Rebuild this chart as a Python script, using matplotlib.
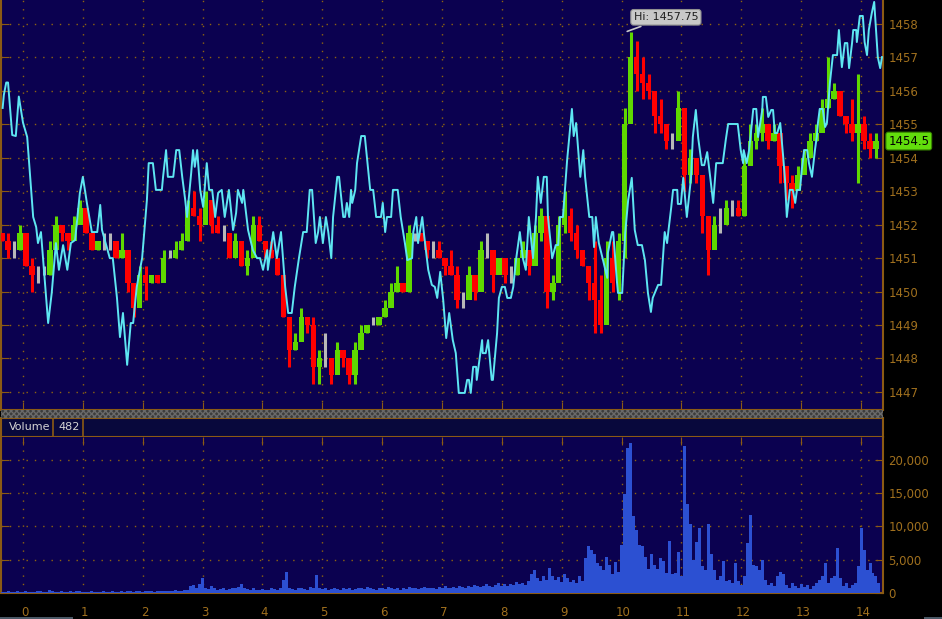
"""
Intraday price bars with comparison line and volume panel
"""
import numpy as np
import matplotlib.pyplot as plt
import matplotlib.transforms as mtrans
from matplotlib.patches import Rectangle

plt.rcParams['font.family'] = ['DejaVu Sans']

# ---- data ----
# price bars, one every 0.1 on the time axis starting at -0.35
first_open = 1451.75
bar_close = [1451.5, 1451.25, 1451.25, 1451.75, 1450.75, 1450.5, 1450.5, 1450.5, 1451.25, 1452.0,
             1451.75, 1451.5, 1452.0, 1452.5, 1451.75, 1451.25, 1451.5, 1451.5, 1451.5, 1451.0,
             1451.25, 1450.25, 1449.5, 1450.5, 1450.25, 1450.5, 1450.25, 1451.0, 1451.0, 1451.25,
             1451.5, 1452.5, 1452.25, 1452.0, 1452.75, 1452.0, 1451.75, 1451.75, 1451.0, 1451.5,
             1450.75, 1451.0, 1452.0, 1451.5, 1451.25, 1451.0, 1450.5, 1449.25, 1448.25, 1448.5,
             1449.25, 1449.0, 1447.75, 1448.0, 1448.0, 1447.5, 1448.25, 1448.0, 1447.5, 1448.25,
             1448.75, 1449.0, 1449.0, 1449.25, 1449.5, 1450.0, 1450.25, 1450.0, 1451.75, 1451.75,
             1451.5, 1451.25, 1451.25, 1451.0, 1450.75, 1450.5, 1449.75, 1449.75, 1450.5, 1450.0,
             1451.25, 1451.25, 1450.5, 1451.0, 1450.5, 1450.5, 1451.0, 1451.25, 1450.75, 1451.75,
             1452.25, 1450.0, 1450.25, 1452.0, 1452.25, 1451.75, 1451.25, 1450.75, 1450.25, 1449.75,
             1449.0, 1451.0, 1450.25, 1451.5, 1455.0, 1457.0, 1456.5, 1456.25, 1456.0, 1455.25,
             1455.0, 1454.5, 1454.5, 1455.5, 1453.5, 1454.0, 1453.5, 1452.25, 1451.25, 1452.0,
             1452.0, 1452.5, 1452.5, 1452.25, 1453.75, 1454.5, 1454.75, 1455.0, 1454.5, 1454.75,
             1453.75, 1453.25, 1453.0, 1453.5, 1454.0, 1454.5, 1454.75, 1455.5, 1455.75, 1456.0,
             1455.25, 1455.0, 1454.75, 1455.0, 1454.5, 1454.25, 1454.5]
bar_high = [1451.75, 1451.75, 1451.5, 1452.0, 1451.25, 1451.0, 1450.75, 1450.75, 1451.5, 1452.25,
            1452.0, 1451.75, 1452.25, 1452.75, 1452.25, 1451.5, 1451.5, 1451.75, 1451.75, 1451.25,
            1451.75, 1451.0, 1449.75, 1450.75, 1450.75, 1450.5, 1450.5, 1451.25, 1451.25, 1451.5,
            1451.75, 1452.75, 1453.0, 1452.5, 1453.0, 1452.5, 1452.25, 1452.0, 1451.5, 1451.75,
            1451.5, 1451.25, 1452.25, 1452.25, 1451.5, 1451.5, 1451.0, 1450.5, 1449.25, 1448.75,
            1449.5, 1449.25, 1449.25, 1448.25, 1448.75, 1448.0, 1448.5, 1448.25, 1448.0, 1448.5,
            1449.0, 1449.0, 1449.25, 1449.25, 1449.75, 1450.25, 1450.75, 1450.25, 1452.0, 1451.75,
            1451.75, 1451.5, 1451.5, 1451.5, 1451.0, 1451.25, 1450.75, 1450.0, 1450.75, 1450.5,
            1451.5, 1451.75, 1451.0, 1451.0, 1450.75, 1450.75, 1451.0, 1451.5, 1451.25, 1452.0,
            1452.5, 1451.5, 1450.5, 1452.25, 1453.0, 1452.5, 1452.0, 1451.25, 1450.75, 1451.5,
            1450.5, 1451.5, 1451.5, 1451.75, 1455.5, 1457.75, 1457.5, 1457.0, 1456.5, 1455.75,
            1455.75, 1455.0, 1454.75, 1456.0, 1455.5, 1454.25, 1454.0, 1453.25, 1452.25, 1452.25,
            1452.5, 1452.75, 1452.75, 1452.75, 1454.0, 1455.0, 1455.0, 1455.5, 1455.0, 1455.0,
            1454.75, 1453.75, 1453.5, 1453.75, 1454.25, 1454.75, 1455.0, 1455.75, 1457.0, 1456.25,
            1455.75, 1455.25, 1455.75, 1456.5, 1455.25, 1454.75, 1454.75]
bar_low = [1451.5, 1451.0, 1451.0, 1451.25, 1450.75, 1450.0, 1450.25, 1450.5, 1450.5, 1451.25,
           1451.5, 1451.25, 1451.75, 1452.25, 1451.75, 1451.25, 1451.25, 1451.25, 1451.25, 1451.0,
           1451.0, 1450.0, 1449.25, 1449.75, 1449.75, 1450.25, 1450.25, 1450.5, 1451.0, 1451.0,
           1451.25, 1451.5, 1452.25, 1451.5, 1452.5, 1451.75, 1451.75, 1451.5, 1451.0, 1451.25,
           1450.75, 1450.5, 1451.75, 1451.5, 1451.0, 1451.0, 1450.5, 1449.25, 1447.75, 1448.25,
           1449.0, 1448.75, 1447.25, 1447.25, 1447.75, 1447.25, 1448.0, 1447.75, 1447.25, 1447.25,
           1448.5, 1448.75, 1449.0, 1449.0, 1449.25, 1449.75, 1450.0, 1450.0, 1450.0, 1451.5,
           1451.5, 1451.0, 1451.0, 1451.0, 1450.5, 1450.5, 1449.5, 1449.5, 1450.0, 1449.75,
           1450.75, 1451.0, 1450.0, 1450.75, 1450.25, 1450.25, 1450.5, 1451.0, 1450.5, 1451.0,
           1451.5, 1449.5, 1449.75, 1450.5, 1451.75, 1451.5, 1451.0, 1450.75, 1449.75, 1448.75,
           1448.75, 1450.0, 1450.0, 1449.75, 1451.0, 1455.5, 1456.0, 1455.75, 1455.75, 1454.75,
           1454.75, 1454.25, 1454.25, 1455.0, 1453.0, 1453.25, 1453.25, 1451.75, 1450.5, 1451.75,
           1451.75, 1452.25, 1452.25, 1452.25, 1452.25, 1454.0, 1454.25, 1454.5, 1454.25, 1454.5,
           1453.25, 1452.75, 1452.5, 1453.25, 1453.75, 1454.25, 1454.5, 1455.25, 1455.5, 1455.75,
           1455.25, 1454.75, 1454.5, 1453.25, 1454.25, 1454.0, 1454.0]

# comparison line (cyan), time / price pairs
line_t = [-0.34, -0.32, -0.28, -0.25, -0.18, -0.12, -0.07, 0.00, 0.07, 0.17, 0.22, 0.25, 0.30, 0.42,
          0.48, 0.55, 0.60, 0.67, 0.74, 0.80, 0.87, 0.95, 1.00, 1.07, 1.15, 1.24, 1.29, 1.32, 1.45,
          1.50, 1.57, 1.62, 1.67, 1.74, 1.80, 1.84, 1.90, 1.99, 2.07, 2.10, 2.17, 2.22, 2.32, 2.34,
          2.39, 2.42, 2.51, 2.56, 2.61, 2.66, 2.71, 2.74, 2.81, 2.84, 2.87, 2.91, 2.96, 3.01, 3.07,
          3.11, 3.16, 3.21, 3.26, 3.32, 3.37, 3.44, 3.51, 3.56, 3.59, 3.66, 3.68, 3.76, 3.84, 3.91,
          3.96, 4.01, 4.08, 4.09, 4.18, 4.24, 4.31, 4.38, 4.43, 4.49, 4.54, 4.61, 4.68, 4.74, 4.79,
          4.83, 4.89, 4.93, 4.96, 5.01, 5.06, 5.10, 5.15, 5.18, 5.25, 5.28, 5.35, 5.38, 5.41, 5.45,
          5.48, 5.50, 5.55, 5.58, 5.65, 5.71, 5.80, 5.85, 5.90, 5.98, 6.01, 6.05, 6.08, 6.15, 6.18,
          6.26, 6.31, 6.38, 6.42, 6.50, 6.52, 6.57, 6.60, 6.67, 6.70, 6.77, 6.83, 6.88, 6.92, 6.97,
          7.02, 7.07, 7.12, 7.18, 7.23, 7.28, 7.38, 7.42, 7.45, 7.48, 7.52, 7.57, 7.58, 7.67, 7.68,
          7.73, 7.77, 7.83, 7.85, 7.92, 7.95, 8.00, 8.05, 8.09, 8.15, 8.19, 8.24, 8.30, 8.35, 8.40,
          8.45, 8.52, 8.57, 8.60, 8.65, 8.70, 8.75, 8.77, 8.84, 8.90, 8.94, 8.97, 9.02, 9.09, 9.17,
          9.20, 9.24, 9.31, 9.36, 9.39, 9.46, 9.51, 9.54, 9.57, 9.62, 9.69, 9.76, 9.77, 9.84, 9.86,
          9.92, 9.94, 10.01, 10.06, 10.11, 10.17, 10.22, 10.27, 10.34, 10.39, 10.44, 10.49, 10.52,
          10.61, 10.66, 10.72, 10.76, 10.78, 10.83, 10.86, 10.93, 10.94, 10.99, 11.03, 11.09, 11.16,
          11.19, 11.24, 11.28, 11.34, 11.38, 11.43, 11.48, 11.53, 11.58, 11.69, 11.74, 11.78, 11.94,
          11.99, 12.03, 12.04, 12.09, 12.13, 12.20, 12.25, 12.28, 12.35, 12.36, 12.41, 12.45, 12.50,
          12.53, 12.56, 12.60, 12.65, 12.70, 12.73, 12.76, 12.81, 12.86, 12.90, 12.93, 12.98, 13.01,
          13.05, 13.10, 13.13, 13.18, 13.23, 13.26, 13.28, 13.31, 13.36, 13.40, 13.43, 13.48, 13.53,
          13.60, 13.63, 13.68, 13.73, 13.77, 13.80, 13.85, 13.87, 13.92, 13.93, 13.98, 14.03, 14.06,
          14.10, 14.13, 14.18, 14.22, 14.25, 14.28, 14.32, 14.35]
line_p = [1455.49, 1455.88, 1456.25, 1456.25, 1454.68, 1454.65, 1455.83, 1455.05, 1454.62, 1452.23,
          1451.93, 1451.45, 1451.78, 1449.06, 1449.96, 1451.45, 1450.65, 1451.39, 1450.65, 1451.45,
          1451.54, 1452.95, 1453.43, 1452.62, 1451.78, 1451.78, 1452.59, 1451.84, 1451.00, 1451.00,
          1449.81, 1448.64, 1449.36, 1447.81, 1449.06, 1449.06, 1450.14, 1451.00, 1452.74, 1453.84,
          1453.84, 1453.04, 1453.04, 1453.43, 1454.23, 1453.43, 1453.43, 1454.23, 1454.23, 1453.43,
          1452.74, 1452.23, 1453.55, 1454.23, 1453.73, 1454.23, 1453.04, 1452.53, 1453.84, 1453.04,
          1453.04, 1452.23, 1452.95, 1453.04, 1452.23, 1453.04, 1451.84, 1452.35, 1453.04, 1452.65,
          1453.04, 1451.84, 1451.24, 1451.00, 1451.00, 1450.65, 1451.24, 1450.65, 1451.78, 1451.00,
          1451.78, 1450.14, 1449.36, 1449.36, 1450.14, 1451.00, 1451.78, 1451.78, 1453.04, 1453.04,
          1451.45, 1451.78, 1452.23, 1451.45, 1452.23, 1451.78, 1451.00, 1452.23, 1453.43, 1453.43,
          1452.23, 1452.23, 1452.65, 1452.23, 1453.04, 1452.65, 1453.04, 1453.84, 1454.65, 1454.65,
          1453.04, 1453.04, 1452.23, 1452.23, 1452.65, 1451.78, 1452.23, 1452.23, 1453.04, 1453.04,
          1452.23, 1451.45, 1450.94, 1451.00, 1451.78, 1452.23, 1451.45, 1452.23, 1451.70, 1450.65,
          1450.20, 1450.14, 1449.81, 1450.59, 1449.75, 1448.61, 1449.36, 1448.55, 1448.16, 1446.97,
          1446.97, 1447.36, 1447.36, 1446.97, 1447.75, 1447.75, 1447.36, 1448.55, 1448.16, 1448.16,
          1448.55, 1447.36, 1447.36, 1448.76, 1449.81, 1450.14, 1450.14, 1449.81, 1449.81, 1450.14,
          1451.00, 1451.78, 1451.00, 1450.65, 1452.23, 1451.00, 1452.23, 1453.43, 1452.65, 1453.43,
          1453.43, 1452.23, 1451.00, 1451.39, 1451.39, 1452.23, 1452.23, 1453.93, 1455.46, 1454.65,
          1455.04, 1453.43, 1454.23, 1453.43, 1452.23, 1452.23, 1451.33, 1452.23, 1451.45, 1450.94,
          1450.41, 1451.15, 1451.78, 1451.78, 1450.35, 1449.96, 1449.96, 1451.75, 1452.74, 1453.40,
          1451.84, 1451.39, 1451.39, 1450.94, 1449.96, 1449.39, 1449.81, 1450.20, 1450.20, 1451.78,
          1451.45, 1451.78, 1452.53, 1453.04, 1453.04, 1452.62, 1452.62, 1453.40, 1452.23, 1453.40,
          1454.62, 1455.43, 1454.59, 1453.78, 1453.78, 1454.17, 1453.43, 1452.65, 1453.84, 1453.84,
          1454.53, 1455.01, 1455.01, 1454.23, 1453.84, 1454.23, 1453.84, 1454.23, 1455.46, 1455.46,
          1454.62, 1455.43, 1455.82, 1455.82, 1455.22, 1455.43, 1455.43, 1454.74, 1454.74, 1455.04,
          1454.02, 1453.34, 1452.23, 1453.04, 1453.04, 1452.65, 1453.04, 1453.04, 1453.64, 1454.23,
          1454.23, 1453.84, 1453.43, 1454.23, 1454.62, 1455.04, 1455.46, 1455.46, 1454.92, 1455.04,
          1456.24, 1457.07, 1457.07, 1457.82, 1456.71, 1457.43, 1457.43, 1456.68, 1457.43, 1457.82,
          1457.82, 1457.46, 1458.24, 1458.24, 1457.46, 1457.07, 1457.82, 1458.33, 1458.66, 1457.82,
          1457.01, 1456.68, 1457.01]

# volume, one bar every 0.05 starting at -0.35
volume = [200, 150, 250, 200, 150, 300, 200, 150, 250, 200, 150, 200, 300, 250, 200, 150,
          450, 350, 200, 150, 250, 200, 150, 300, 200, 350, 300, 200, 150, 200, 250, 200,
          150, 200, 250, 150, 200, 300, 200, 150, 250, 200, 300, 250, 200, 300, 250, 200,
          300, 350, 250, 200, 300, 250, 350, 300, 250, 300, 400, 350, 300, 450, 400, 1000,
          1200, 800, 1300, 2250, 700, 600, 1000, 700, 500, 600, 700, 500, 600, 800, 700, 900,
          1350, 700, 600, 500, 800, 400, 500, 600, 400, 500, 700, 600, 500, 700, 1900, 3150,
          700, 600, 500, 800, 700, 600, 500, 900, 700, 2650, 800, 600, 700, 500, 600, 700,
          600, 500, 800, 600, 700, 500, 600, 800, 700, 600, 900, 700, 600, 500, 700, 800,
          600, 900, 700, 600, 800, 500, 700, 600, 900, 700, 800, 600, 700, 900, 800, 700,
          800, 600, 900, 700, 1000, 800, 700, 900, 800, 1100, 900, 800, 1000, 900, 1200, 1000,
          900, 1100, 1300, 1000, 900, 1200, 1500, 1100, 1300, 1000, 1400, 1200, 1600, 1300, 1500, 1200,
          1800, 2800, 3500, 2200, 1800, 2500, 2000, 3800, 2600, 1900, 2400, 1700, 2900, 2200, 1600, 2000,
          1500, 2500, 1800, 5200, 7000, 6500, 5800, 4500, 4000, 3500, 5400, 4200, 2800, 4600, 3200, 7200,
          14800, 21800, 22500, 11500, 9500, 7200, 7000, 5400, 3600, 5800, 4200, 3600, 5200, 4800, 3000, 7800,
          2800, 3000, 6200, 2500, 22000, 13300, 10400, 5000, 7600, 9700, 4000, 3500, 10300, 5900, 3500, 2000,
          2500, 4800, 1800, 2000, 1500, 4500, 1800, 1200, 2500, 7500, 11700, 4200, 4000, 3500, 5000, 2000,
          1200, 1500, 1000, 2500, 3200, 2800, 1200, 800, 1500, 1000, 700, 1300, 900, 1200, 600, 1000,
          1500, 2000, 2500, 4500, 1500, 2200, 2500, 6800, 2200, 1000, 1500, 800, 1200, 1500, 4000, 9800,
          6500, 3500, 4500, 3000, 2500, 1500]

price_ticks = [1447, 1448, 1449, 1450, 1451, 1452, 1453, 1454, 1455, 1456, 1457, 1458]
vol_ticks = [0, 5000, 10000, 15000, 20000]
vol_labels = ['0', '5,000', '10,000', '15,000', '20,000']
hour_ticks = list(range(15))
last_price = 1454.5
last_volume = 482
day_high = 1457.75
day_high_t = 10.05

# ---- style ----
BG = '#0b0150'
GRID = '#8f6410'
AXC = '#8b5a14'
TXT = '#a0701e'
GREEN = '#5fd800'
RED = '#ff0000'
GRAY = '#b8b8b8'
CYAN = '#5ee6f2'
VOLC = '#2c50d2'

W, H = 942, 619
fig = plt.figure(figsize=(W / 100, H / 100), dpi=100, facecolor='black')


def px_box(x0, y0, x1, y1):
    return [x0 / W, 1 - y1 / H, (x1 - x0) / W, (y1 - y0) / H]


ax = fig.add_axes(px_box(1, 0, 883, 410))
hdr = fig.add_axes(px_box(1, 418, 883, 437))
axv = fig.add_axes(px_box(1, 437, 883, 593))

xlim = (-0.3675, 14.367)
dots = (0, (1, 5))

# ---- price panel ----
ax.set_facecolor(BG)
bar_t = np.arange(len(bar_close)) * 0.1 - 0.35
opens = np.array([first_open] + bar_close[:-1])
closes = np.array(bar_close)
cols = np.where(closes > opens, GREEN, np.where(closes < opens, RED, GRAY))
ax.vlines(bar_t, bar_low, bar_high, colors=cols, lw=2.2, zorder=3)
ax.bar(bar_t, closes - opens, bottom=opens, width=0.092, color=cols, lw=0, zorder=3)
ax.plot(line_t, line_p, color=CYAN, lw=1.4, zorder=4)

ax.set_xlim(*xlim)
ax.set_ylim(1446.46, 1458.717)
ax.set_yticks(price_ticks)
ax.set_xticks(hour_ticks)
ax.grid(True, color=GRID, linestyle=dots, lw=1)
ax.tick_params(axis='y', left=True, right=True, labelleft=False, labelright=True,
               direction='in', length=6, color=AXC, labelcolor=TXT, labelsize=8.5, pad=4)
ax.tick_params(axis='x', bottom=True, labelbottom=False, direction='in', length=6, color=AXC)
ax.spines['top'].set_visible(False)
for s in ['left', 'right', 'bottom']:
    ax.spines[s].set_color(AXC)
    ax.spines[s].set_linewidth(1.5)

# last price flag
mixed = mtrans.blended_transform_factory(ax.transAxes, ax.transData)
ax.text(1.006, last_price, f'{last_price}', transform=mixed, ha='left', va='center',
        fontsize=8.5, color='black', clip_on=False,
        bbox=dict(boxstyle='round,pad=0.2', fc='#62dd0c', ec='#3a8a00', lw=0.8))

# session high callout
ax.annotate(f'Hi: {day_high}', xy=(day_high_t, day_high), xytext=(10.74, 1458.2),
            ha='center', va='center', fontsize=8, color='#202020', zorder=6,
            bbox=dict(boxstyle='round,pad=0.25', fc='#c8c8c8', ec='#909090', lw=0.8),
            arrowprops=dict(arrowstyle='-', color='#c8c8c8', lw=1.2))

# ---- separator band ----
fig.patches.append(Rectangle((1 / W, 1 - 418 / H), 882 / W, 8 / H, transform=fig.transFigure,
                             fc='#3c3c3c', ec='#6a6a6a', hatch='xxxxxx', lw=0))

# ---- volume header strip ----
hdr.set_facecolor('#08083c')
hdr.set_xlim(0, 882)
hdr.set_ylim(0, 1)
hdr.set_xticks([])
hdr.set_yticks([])
for s in hdr.spines.values():
    s.set_color(AXC)
    s.set_linewidth(1.5)
hdr.text(8, 0.5, 'Volume', color='#d4d4d4', fontsize=8, va='center', ha='left')
hdr.axvline(52, color=AXC, lw=1.2)
hdr.text(57, 0.5, f'{last_volume}', color='#d4d4d4', fontsize=8, va='center', ha='left')
hdr.axvline(82, color=AXC, lw=1.2)

# ---- volume panel ----
axv.set_facecolor(BG)
vol_t = np.arange(len(volume)) * 0.05 - 0.35
axv.bar(vol_t, volume, width=0.05, color=VOLC, lw=0, zorder=3)
axv.set_xlim(*xlim)
axv.set_ylim(0, 23420)
axv.set_yticks(vol_ticks)
axv.set_yticklabels(vol_labels)
axv.set_xticks(hour_ticks)
axv.set_xticklabels([str(h) for h in hour_ticks])
axv.grid(True, color=GRID, linestyle=dots, lw=1)
axv.tick_params(axis='y', left=True, right=True, labelleft=False, labelright=True,
                direction='in', length=6, color=AXC, labelcolor=TXT, labelsize=8.5, pad=4)
axv.tick_params(axis='x', top=True, bottom=False, labelbottom=True, direction='in', length=6,
                color=AXC, labelcolor=TXT, labelsize=8.5, pad=9)
shift = mtrans.ScaledTranslation(2 / 100, 0, fig.dpi_scale_trans)
for lbl in axv.get_xticklabels():
    lbl.set_transform(lbl.get_transform() + shift)
axv.spines['top'].set_visible(False)
for s in ['left', 'right', 'bottom']:
    axv.spines[s].set_color(AXC)
    axv.spines[s].set_linewidth(1.5)

# scrollbar remnants at the very bottom
fig.patches.append(Rectangle((0, 0), 73 / W, 2 / H, transform=fig.transFigure, fc='#4a5866', lw=0))
fig.patches.append(Rectangle((924 / W, 0), 18 / W, 2 / H, transform=fig.transFigure, fc='#4a5866', lw=0))

fig.savefig('out.png', dpi=100, facecolor='black')
